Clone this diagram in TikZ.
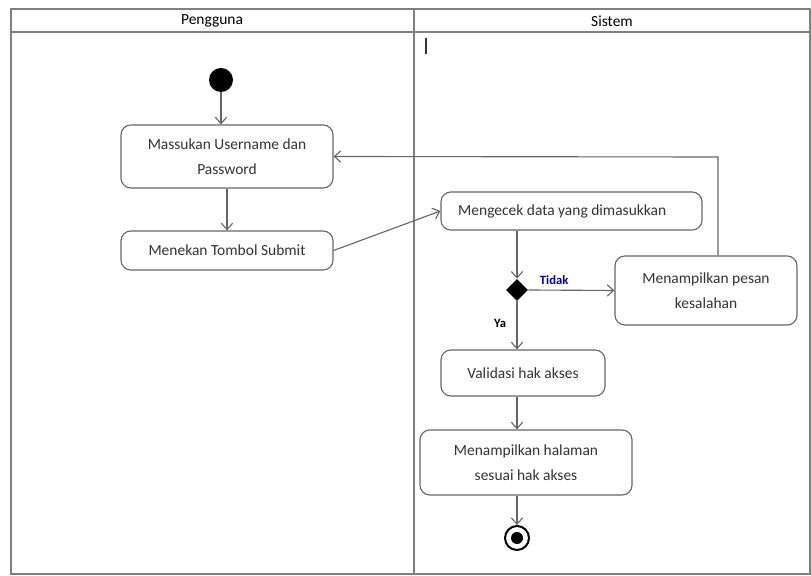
\documentclass[tikz,border=0pt]{standalone}
\usepackage{fontspec}
\setmainfont{Carlito}
\usetikzlibrary{shapes,arrows.meta,positioning}

\tikzset{
	act/.style={draw=black!60, line width=0.8pt, rounded corners=7pt, align=center,
		text=black!80, font=\fontsize{11}{18}\selectfont, inner sep=0pt},
	flow/.style={draw=black!60, line width=0.8pt, -{Straight Barb[length=4.5pt, width=8pt]}},
	lane/.style={draw=black!50, line width=1.2pt},
}

\begin{document}
\begin{tikzpicture}[x=0.025cm, y=-0.025cm]
	
	\useasboundingbox (0,0) rectangle (811,576);
	
	% Swimlanes
	\draw[lane] (11,9) rectangle (810,574);
	\draw[lane] (11,32) -- (810,32);
	\draw[lane] (414,9) -- (414,574);
	\node (pengguna) at (212,21) {\fontsize{11}{13}\selectfont Pengguna};
	\node (sistem) at (612,21) {\fontsize{11}{13}\selectfont Sistem};
	\draw[black!80, line width=1.3pt] (426,38) -- (426,54);
	
	% Pengguna
	\node[circle, fill=black, minimum size=0.6cm, inner sep=0pt] (start) at (221,80) {};
	\node[act, minimum width=5.3cm, minimum height=1.575cm] (masuk) at (227,156.5) {Massukan Username dan\\Password};
	\node[act, minimum width=5.3cm, minimum height=0.975cm] (submit) at (227,250.5) {Menekan Tombol Submit};
	
	% Sistem
	\node[act, minimum width=6.525cm, minimum height=0.95cm] (cek) at (571.5,211) {Mengecek data yang dimasukkan\hspace{1.2em}};
	\node[diamond, fill=black, minimum size=0.55cm, inner sep=0pt] (cabang) at (517,290) {};
	\node[act, minimum width=4.55cm, minimum height=1.725cm] (pesan) at (706,290.5) {Menampilkan pesan\\kesalahan};
	\node[act, minimum width=4.1cm, minimum height=1.15cm] (validasi) at (523,373) {Validasi hak akses};
	\node[act, minimum width=5.3cm, minimum height=1.625cm] (halaman) at (526,462.5) {Menampilkan halaman\\sesuai hak akses};
	\node[circle, draw=black, line width=1.4pt, minimum size=0.6cm, inner sep=0pt] (akhir) at (517,538) {};
	\node[circle, fill=black, minimum size=0.3cm, inner sep=0pt] (akhirdot) at (akhir) {};
	\coordinate (balik) at (718,157);
	
	% Alur
	\draw[flow] (start) -- (start |- masuk.north);
	\draw[flow] (masuk) -- (submit);
	\draw[flow] (submit.east) -- (cek.west);
	\draw[flow] (cek.south -| cabang) -- (cabang.north);
	\draw[flow] (cabang.east) -- (pesan.west) node[pos=0.3, above, text=blue!60!black, font=\fontsize{9}{11}\selectfont\bfseries] (tidak) {Tidak};
	\draw[flow] (cabang.south) -- (validasi.north -| cabang) node[pos=0.45, left=4pt, font=\fontsize{9}{11}\selectfont\bfseries] (ya) {Ya};
	\draw[flow] (validasi.south -| cabang) -- (halaman.north -| cabang);
	\draw[flow] (halaman.south -| cabang) -- (akhir.north);
	\draw[flow] (pesan.north -| balik) -- (balik) -- (masuk.east);
	
\end{tikzpicture}
\end{document}
